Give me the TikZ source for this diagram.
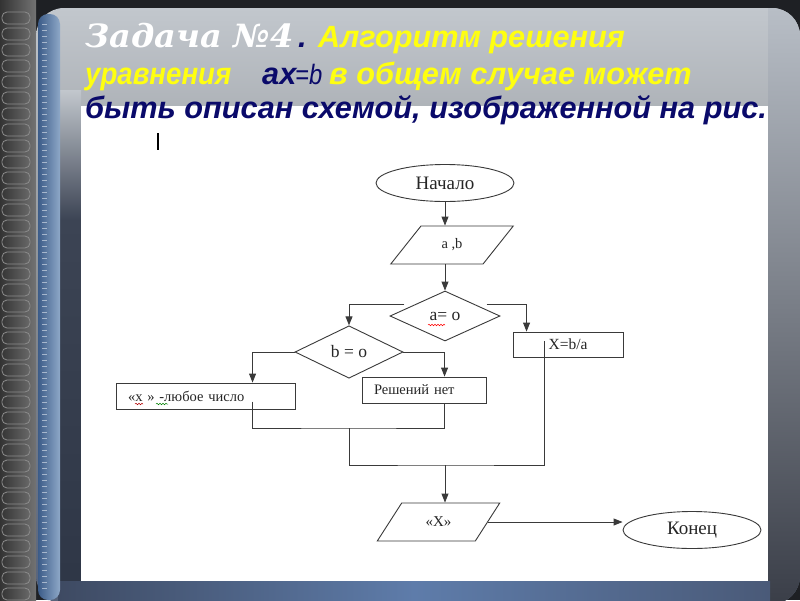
\documentclass[tikz,border=0pt]{standalone}
\usepackage{graphicx}
\usepackage{fontspec}
\setmainfont{Liberation Serif}
\newfontfamily\tsans{Liberation Sans}
\newfontfamily\tserif{DejaVu Serif}
\usetikzlibrary{shapes.geometric,arrows.meta,decorations.pathmorphing,calc}
\definecolor{bgdark}{HTML}{1E2024}
\definecolor{panelTop}{HTML}{C2C7CD}
\definecolor{panelBot}{HTML}{56627A}
\definecolor{slate}{HTML}{3C4454}
\definecolor{slateD}{HTML}{2E3646}
\definecolor{stripL}{HTML}{3C5C88}
\definecolor{stripR}{HTML}{8EA8C8}
\definecolor{rightTop}{HTML}{B8BEC6}
\definecolor{rightMid}{HTML}{9CB6D6}
\definecolor{rightBot}{HTML}{3A3E48}
\definecolor{bandL}{HTML}{3E4A62}
\definecolor{bandM}{HTML}{5E7CAA}
\definecolor{bandR}{HTML}{4A5A78}
\definecolor{navy}{HTML}{0A0A6A}
\definecolor{ttlyellow}{HTML}{FFFF10}
\definecolor{lineC}{HTML}{3A3A3A}
\tikzset{
  fc/.style={draw=lineC, line width=0.9pt, font=\fontsize{14.5}{16}\selectfont, text=black!85},
  term/.style={fc, ellipse, minimum width=138pt, minimum height=37pt, inner sep=1pt, font=\fontsize{19}{21}\selectfont},
  io/.style={fc, trapezium, trapezium left angle=52, trapezium right angle=128, trapezium stretches=true, minimum width=123pt, minimum height=38pt, inner sep=1pt},
  cond/.style={fc, diamond, inner sep=1pt, font=\fontsize{17.5}{19}\selectfont},
  proc/.style={fc, rectangle, minimum height=26pt, inner sep=1pt},
  arr/.style={draw=lineC, line width=0.9pt, -{Triangle[length=9pt,width=7pt]}},
  ln/.style={draw=lineC, line width=0.9pt},
  wavy/.style={decorate, decoration={snake, amplitude=0.8pt, segment length=3pt}, line width=0.5pt},
  ttl/.style={anchor=base west, inner sep=0pt, font=\tsans\bfseries\itshape\fontsize{30.7}{34}\selectfont}
}
\begin{document}
\begin{tikzpicture}[x=1pt,y=-1pt]
\useasboundingbox (0,0) rectangle (800,600);
% ---------- background ----------
\fill[bgdark] (0,0) rectangle (800,600);
\shade[left color=black!80, right color=black!55] (0,0) rectangle (36,600);
\foreach \yy in {12,28,...,590} \draw[black!45, line width=0.8pt, rounded corners=5pt] (2,\yy) rectangle (30,\yy+12);
\begin{scope}
  \clip[rounded corners=28pt] (36,8) rectangle (800,604);
  \shade[top color=panelTop, bottom color=panelBot, middle color=black!30!panelTop] (36,8) rectangle (800,604);
  \shade[top color=rightTop, middle color=rightMid, bottom color=rightBot] (768,8) rectangle (800,604);
  \shade[top color=panelTop, bottom color=slate] (58,90) rectangle (81,220);
  \shade[top color=slate, bottom color=slateD] (58,220) rectangle (81,604);
  \shade[left color=bandL, right color=bandR, middle color=bandM] (58,581) rectangle (770,604);
\end{scope}
\shade[left color=stripL, right color=stripR, rounded corners=10pt] (38,14) rectangle (60,600);
\foreach \yy in {24,30,...,590} \draw[white!70!stripR, line width=0.4pt, opacity=0.6] (42,\yy) -- (47,\yy);
% ---------- white area ----------
\fill[white] (81,106) rectangle (768,581);
% ---------- title ----------
\node[anchor=base west, inner sep=0pt, text=white, font=\tserif\bfseries\itshape\fontsize{32}{34}\selectfont] (t1) at (85,47) {\scalebox{1.05}[1]{Задача №4}};
\node[ttl, text=navy] (t1d) at (298,47) {.};
\node[ttl, text=ttlyellow] (t1y) at (318,47) {Алгоритм решения};
\node[ttl, text=ttlyellow] (t2a) at (85,84) {\scalebox{0.9}[1]{уравнения}};
\node[ttl, text=navy] (t2b) at (262,84) {ax};
\node[ttl, text=navy, font=\tsans\itshape\fontsize{28}{30}\selectfont] (t2c) at (295,84) {\scalebox{0.85}[1]{=b}};
\node[ttl, text=ttlyellow] (t2d) at (329,84) {в общем случае может};
\node[ttl, text=navy] (t3) at (85,118) {быть описан схемой, изображенной на рис.};
\draw[black, line width=1.3pt] (158,133) -- (158,150);
% ---------- flowchart ----------
\node[term] (start) at (445,183) {Начало};
\node[io] (ab) at (452,245) {a ,b};
\node[cond, minimum width=110pt, minimum height=50pt] (d1) at (445,316) {a= o};
\node[cond, minimum width=108pt, minimum height=49pt] (d2) at (349,352) {b = o};
\node[proc, minimum width=110pt, minimum height=25pt, font=\fontsize{15.5}{17}\selectfont] (xa) at (568,344.5) {X=b/a};
\node[proc, minimum width=179pt, text width=155pt, align=left] (xbox) at (205.5,396) {«x » -любое число};
\node[proc, minimum width=124pt, text width=100pt, align=left] (net) at (424,390) {Решений нет};
\node[io, font=\fontsize{15}{17}\selectfont] (outx) at (438.5,522) {«X»};
\node[term] (end) at (692,530) {Конец};
% connectors
\draw[arr] (start.south) -- (start.south |- ab.north);
\draw[arr] (d1.north |- ab.south) -- (d1.north);
\draw[arr] ($(d1.north west)+(-13,1)$) -| (d2.north);
\draw[arr] ($(d1.north east)+(14,1)$) -| ($(xa.north west)+(14,0)$);
\draw[arr] (d2.west) -| ($(xbox.north west)+(137,0)$);
\draw[arr] (d2.east) -| ($(net.north west)+(83,0)$);
\coordinate (m1) at (349,428);
\coordinate (m2) at (445,465);
\draw[ln] ($(xbox.north west)+(137,19)$) |- (m1) -| ($(net.south west)+(83,0)$);
\draw[ln] (m1) |- (m2) -| ($(xa.north west)+(32,9)$);
\draw[arr] (m2) -- (m2 |- outx.north);
\draw[arr] (outx.east) -- (outx.east -| end.west);
% spell-check marks
\draw[red, wavy] (428,325) -- (445,325);
\draw[red!70!black, wavy] (135,404) -- (143,404);
\draw[green!50!black, wavy] (156,404) -- (168,404);
\end{tikzpicture}
\end{document}
